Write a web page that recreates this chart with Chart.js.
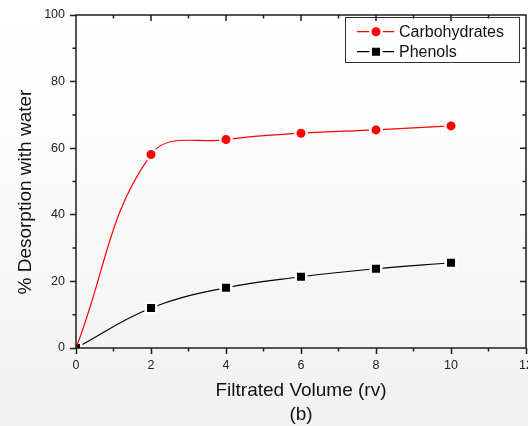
<!DOCTYPE html>
<html>
<head>
<meta charset="utf-8">
<script src="https://cdn.jsdelivr.net/npm/chart.js@4/dist/chart.umd.min.js"></script>
<style>
  html, body { margin: 0; padding: 0; }
  body {
    width: 528px;
    height: 426px;
    background: linear-gradient(to bottom, #ffffff 0%, #fdfdfd 30%, #f1f1f1 100%);
  }
</style>
</head>
<body>
<canvas id="desorption" width="528" height="426"></canvas>
<script>
// volumes in bed volumes (rv), desorption in %
const volumes = [0, 2, 4, 6, 8, 10];
const carbohydrates = [0, 58.1, 62.6, 64.5, 65.5, 66.7];
const phenols = [0, 12.0, 18.1, 21.4, 23.8, 25.6];
const xTicks = [0, 2, 4, 6, 8, 10, 12];
const yTicks = [0, 20, 40, 60, 80, 100];

const AXIS = "#1e1e1e";
const GAP = "#fcfcfc"; // ring round the markers so the line stops short of them
const FONT = "Liberation Sans, Arial, sans-serif";

const toPoints = vals => vals.map((v, i) => ({ x: volumes[i], y: v }));

// closed frame with minor ticks out on bottom/left, every tick in on top/right
const frame = {
  id: "frame",
  afterDatasetsDraw(chart) {
    const { ctx, chartArea: a, scales: { x, y } } = chart;
    ctx.save();
    ctx.strokeStyle = AXIS;
    ctx.lineWidth = 1.5;
    ctx.beginPath();
    ctx.rect(a.left, a.top, a.right - a.left, a.bottom - a.top);
    x.ticks.forEach(t => {
      const px = x.getPixelForValue(t.value);
      const major = xTicks.includes(t.value);
      if (!major) {
        ctx.moveTo(px, a.bottom);
        ctx.lineTo(px, a.bottom + 3.5);
      }
      ctx.moveTo(px, a.top);
      ctx.lineTo(px, a.top + (major ? 6 : 3.5));
    });
    y.ticks.forEach(t => {
      const py = y.getPixelForValue(t.value);
      const major = yTicks.includes(t.value);
      if (!major) {
        ctx.moveTo(a.left, py);
        ctx.lineTo(a.left - 3.5, py);
      }
      ctx.moveTo(a.right, py);
      ctx.lineTo(a.right - (major ? 6 : 3.5), py);
    });
    ctx.stroke();
    ctx.restore();
  }
};

// boxed legend in the top right corner, line + marker + name
const legendBox = {
  id: "legendBox",
  afterDraw(chart) {
    const { ctx, chartArea: a } = chart;
    const w = 174, h = 45;
    const left = a.right - 7 - w, top = a.top + 2;
    ctx.save();
    ctx.strokeStyle = "#333";
    ctx.lineWidth = 1;
    ctx.strokeRect(left + 0.5, top + 0.5, w, h);
    chart.data.datasets.forEach((ds, i) => {
      const cy = top + 14.7 + i * 20;
      const x0 = left + 12, mx = left + 31, x1 = left + 49;
      ctx.strokeStyle = ds.borderColor;
      ctx.lineWidth = 1.2;
      ctx.beginPath();
      ctx.moveTo(x0, cy);
      ctx.lineTo(x1, cy);
      ctx.stroke();
      ctx.fillStyle = ds.borderColor;
      ctx.strokeStyle = GAP;
      ctx.lineWidth = 2.5;
      ctx.beginPath();
      if (ds.pointStyle === "rect") {
        ctx.rect(mx - 5.25, cy - 5.25, 10.5, 10.5);
      } else {
        ctx.arc(mx, cy, 5.75, 0, Math.PI * 2);
      }
      ctx.fill();
      ctx.stroke();
      ctx.fillStyle = "#111";
      ctx.font = "16px " + FONT;
      ctx.textBaseline = "middle";
      ctx.fillText(ds.label, left + 54, cy + 0.5);
    });
    ctx.restore();
  }
};

new Chart(document.getElementById("desorption"), {
  type: "line",
  data: {
    datasets: [
      {
        label: "Carbohydrates",
        data: toPoints(carbohydrates),
        borderColor: "#ff0000",
        borderWidth: 1.2,
        tension: 0.4,
        pointStyle: "circle",
        pointRadius: c => (c.dataIndex === 0 ? 0 : 5.75),
        pointBackgroundColor: "#ff0000",
        pointBorderColor: GAP,
        pointBorderWidth: 2.5,
        clip: 0
      },
      {
        label: "Phenols",
        data: toPoints(phenols),
        borderColor: "#000000",
        borderWidth: 1.2,
        tension: 0.4,
        pointStyle: "rect",
        pointRadius: 7.4,
        pointBackgroundColor: "#000000",
        pointBorderColor: GAP,
        pointBorderWidth: 2.5,
        clip: 0
      }
    ]
  },
  options: {
    responsive: false,
    animation: false,
    events: [],
    layout: { autoPadding: false, padding: { top: 15, right: 2, left: 0, bottom: 0 } },
    plugins: { legend: { display: false }, tooltip: { enabled: false } },
    scales: {
      x: {
        type: "linear",
        min: 0,
        max: 12,
        afterFit(scale) {
          scale.height = 78;
          scale.paddingLeft = 0;
          scale.paddingRight = 0;
        },
        border: { display: false },
        grid: {
          drawOnChartArea: false,
          tickLength: 6,
          tickWidth: 1.5,
          tickColor: c => (xTicks.includes(c.tick.value) ? AXIS : "rgba(0,0,0,0)")
        },
        ticks: {
          stepSize: 1,
          autoSkip: false,
          maxRotation: 0,
          padding: 4,
          color: "#222",
          font: { family: FONT, size: 12.5 },
          callback: v => (xTicks.includes(v) ? String(v) : "")
        },
        title: {
          display: true,
          text: ["Filtrated Volume (rv)", "(b)"],
          color: "#111",
          font: { family: FONT, size: 19, lineHeight: 1.23 },
          padding: { top: 0, bottom: 0 }
        }
      },
      y: {
        type: "linear",
        min: 0,
        max: 100,
        afterFit(scale) {
          scale.width = 76;
          scale.paddingTop = 0;
          scale.paddingBottom = 0;
        },
        border: { display: false },
        grid: {
          drawOnChartArea: false,
          tickLength: 6,
          tickWidth: 1.5,
          tickColor: c => (yTicks.includes(c.tick.value) ? AXIS : "rgba(0,0,0,0)")
        },
        ticks: {
          stepSize: 10,
          autoSkip: false,
          padding: 5,
          color: "#222",
          font: { family: FONT, size: 12.5 },
          callback: v => (yTicks.includes(v) ? String(v) : "")
        },
        title: {
          display: true,
          text: "% Desorption with water    ",
          color: "#111",
          font: { family: FONT, size: 19 },
          padding: { top: 14, bottom: 0 }
        }
      }
    }
  },
  plugins: [frame, legendBox]
});
</script>
</body>
</html>
